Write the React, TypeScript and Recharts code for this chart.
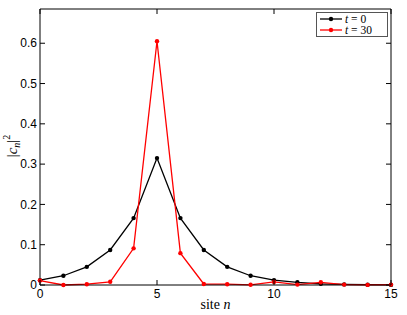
import React from 'react'
import { LineChart, Line, XAxis, YAxis, ReferenceLine } from 'recharts'

const SITES = [0, 1, 2, 3, 4, 5, 6, 7, 8, 9, 10, 11, 12, 13, 14, 15]
const T0 = [0.012, 0.023, 0.045, 0.087, 0.166, 0.315, 0.166, 0.087, 0.045, 0.023, 0.012, 0.0067, 0.003, 0.0015, 0.0007, 0.0003]
const T30 = [0.011, 0.0, 0.002, 0.008, 0.091, 0.605, 0.079, 0.0025, 0.002, 0.0005, 0.0075, 0.001, 0.0067, 0.001, 0.0003, 0.001]
const X_TICKS = [0, 5, 10, 15]
const Y_TICKS = [0, 0.1, 0.2, 0.3, 0.4, 0.5, 0.6]
const Y_MAX = 0.685

const data = SITES.map((n, i) => ({ n, t0: T0[i], t30: T30[i] }))

const W = 407
const H = 315
const LEFT = 40
const RIGHT = 391
const TOP = 9
const BOTTOM = 285
const TICK = 5
const SANS = '"Liberation Sans", Arial, sans-serif'
const SERIF = '"Liberation Serif", "Times New Roman", serif'

function XTick(props: any) {
  const { x, y, payload } = props
  return (
    <g>
      <line x1={x} x2={x} y1={BOTTOM} y2={BOTTOM - TICK} stroke="#000" />
      <line x1={x} x2={x} y1={TOP} y2={TOP + TICK} stroke="#000" />
      <text x={x} y={y} dy="0.71em" textAnchor="middle" fontFamily={SANS} fontSize={12} fill="#000">
        {payload.value}
      </text>
    </g>
  )
}

function YTick(props: any) {
  const { x, y, payload } = props
  return (
    <g>
      <line x1={LEFT} x2={LEFT + TICK} y1={y} y2={y} stroke="#000" />
      <line x1={RIGHT - TICK} x2={RIGHT} y1={y} y2={y} stroke="#000" />
      <text x={x} y={y} dy="0.35em" textAnchor="end" fontFamily={SANS} fontSize={12} fill="#000">
        {payload.value}
      </text>
    </g>
  )
}

function YLabel() {
  const cx = 17
  const cy = 146
  return (
    <text transform={`rotate(-90, ${cx}, ${cy})`} x={cx} y={cy} textAnchor="middle" fontFamily={SERIF} fontSize={15} fill="#000">
      |<tspan fontStyle="italic">c</tspan>
      <tspan fontStyle="italic" fontSize={10} dy={3}>n</tspan>
      <tspan dy={-3}>|</tspan>
      <tspan fontSize={10} dy={-7}>2</tspan>
    </text>
  )
}

function XLabel() {
  return (
    <text x={(LEFT + RIGHT) / 2} y={309} textAnchor="middle" fontFamily={SERIF} fontSize={14} fill="#000">
      site <tspan fontStyle="italic">n</tspan>
    </text>
  )
}

function LegendBox() {
  const rows = [
    { label: '0', color: '#000' },
    { label: '30', color: '#ff0000' },
  ]
  return (
    <div style={{ position: 'absolute', left: 316, top: 12, width: 72, height: 25, border: '1px solid #555', background: '#fff', boxSizing: 'border-box' }}>
      <svg width={72} height={25} style={{ position: 'absolute', left: -1, top: -1 }}>
        {rows.map((r, i) => (
          <g key={i}>
            <line x1={4} x2={26} y1={7 + i * 11} y2={7 + i * 11} stroke={r.color} strokeWidth={1.3} />
            <circle cx={15} cy={7 + i * 11} r={2.2} fill={r.color} />
            <text x={29} y={11 + i * 11} fontFamily={SERIF} fontSize={11.5} fill="#000">
              <tspan fontStyle="italic">t</tspan> = {r.label}
            </text>
          </g>
        ))}
      </svg>
    </div>
  )
}

export default function App() {
  return (
    <div style={{ position: 'fixed', left: 0, top: 0, width: W, height: H, background: '#fff' }}>
      <LineChart width={W} height={H} data={data} margin={{ top: TOP, right: W - RIGHT, left: 0, bottom: 0 }}>
        <XAxis
          dataKey="n"
          type="number"
          domain={[0, 15]}
          ticks={X_TICKS}
          height={H - BOTTOM}
          tickSize={0}
          tickMargin={4}
          tickLine={false}
          axisLine={{ stroke: '#000' }}
          tick={<XTick />}
          interval={0}
          label={<XLabel />}
        />
        <YAxis
          type="number"
          domain={[0, Y_MAX]}
          ticks={Y_TICKS}
          width={LEFT}
          tickSize={0}
          tickMargin={3}
          tickLine={false}
          axisLine={{ stroke: '#000' }}
          tick={<YTick />}
          interval={0}
          label={<YLabel />}
        />
        <ReferenceLine x={15} stroke="#000" />
        <ReferenceLine y={Y_MAX} stroke="#000" />
        <Line dataKey="t0" stroke="#000" strokeWidth={1.3} dot={{ r: 2.2, fill: '#000', stroke: '#000', strokeWidth: 0 }} isAnimationActive={false} />
        <Line dataKey="t30" stroke="#ff0000" strokeWidth={1.3} dot={{ r: 2.2, fill: '#ff0000', stroke: '#ff0000', strokeWidth: 0 }} isAnimationActive={false} />
      </LineChart>
      <LegendBox />
    </div>
  )
}
